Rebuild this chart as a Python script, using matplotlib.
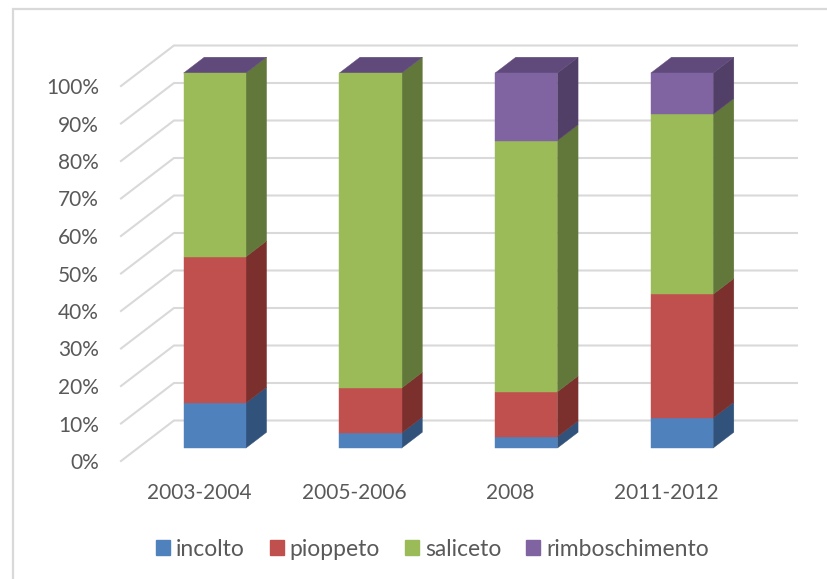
import matplotlib
matplotlib.use("Agg")
import matplotlib.pyplot as plt
from matplotlib.patches import Polygon, Patch, Rectangle

plt.rcParams['font.family'] = ['Lato', 'DejaVu Sans']

categories = ['2003-2004', '2005-2006', '2008', '2011-2012']
incolto = [12, 4, 3, 8]
pioppeto = [39, 12, 12, 33]
saliceto = [49, 84, 67, 48]
rimboschimento = [0, 0, 18, 11]
tick_values = list(range(0, 101, 10))

series_names = ['incolto', 'pioppeto', 'saliceto', 'rimboschimento']
series_values = [incolto, pioppeto, saliceto, rimboschimento]
front_colors = ['#4F81BD', '#C0504D', '#9BBB59', '#8064A2']
side_colors = ['#31527B', '#7B302E', '#62773A', '#523F68']
top_color = '#604A7B'
grid_color = '#D9D9D9'
text_color = '#595959'

W, H = 828, 579
fig = plt.figure(figsize=(W / 100, H / 100), dpi=100, facecolor='white')
ax = fig.add_axes([121 / W, (H - 461) / H, 623 / W, 375 / H])
ax.set_xlim(-0.5, 3.5)
ax.set_ylim(0, 100)
ax.patch.set_visible(False)
for s in ax.spines.values():
    s.set_visible(False)

# outer chart frame
fig.add_artist(Rectangle((13 / W, -0.05), 1.0, (H - 9) / H + 0.05,
                         transform=fig.transFigure, fill=False,
                         edgecolor=grid_color, linewidth=1.6))

depth_x = 0.34    # depth of the floor in category units
depth_y = 10.8    # depth of the floor in percent units
bar_width = 0.40
front_frac = 0.30
depth_frac = 0.39

# gridlines on floor/back wall
for v in tick_values:
    ax.plot([-0.5, -0.5 + depth_x, 3.5 + depth_x],
            [v, v + depth_y, v + depth_y],
            color=grid_color, lw=1.5, clip_on=False, zorder=1,
            solid_joinstyle='miter')

fx = depth_x * front_frac
fy = depth_y * 0.32
bx = depth_x * depth_frac
by = depth_y * depth_frac

for i in range(len(categories)):
    x0 = i - bar_width / 2 + fx
    x1 = i + bar_width / 2 + fx
    bottom = fy
    for vals, fc, sc in zip(series_values, front_colors, side_colors):
        v = vals[i]
        if v == 0:
            continue
        top = bottom + v
        ax.add_patch(Polygon([(x1, bottom), (x1 + bx, bottom + by),
                              (x1 + bx, top + by), (x1, top)],
                             closed=True, facecolor=sc, edgecolor=sc,
                             lw=0.3, clip_on=False, zorder=3))
        ax.add_patch(Polygon([(x0, bottom), (x1, bottom), (x1, top), (x0, top)],
                             closed=True, facecolor=fc, edgecolor=fc,
                             lw=0.3, clip_on=False, zorder=4))
        bottom = top
    ax.add_patch(Polygon([(x0, bottom), (x1, bottom), (x1 + bx, bottom + by),
                          (x0 + bx, bottom + by)],
                         closed=True, facecolor=top_color, edgecolor=top_color,
                         lw=0.3, clip_on=False, zorder=3))

ax.set_xticks(range(len(categories)))
ax.set_xticklabels(categories)
ax.set_yticks(tick_values)
ax.set_yticklabels([f'{v}%' for v in tick_values])
ax.tick_params(axis='x', length=0, pad=15.5, labelsize=15, labelcolor=text_color)
ax.tick_params(axis='y', length=0, pad=16, labelsize=15, labelcolor=text_color)

handles = [Patch(facecolor=c, edgecolor=c, label=n)
           for n, c in zip(series_names, front_colors)]
fig.legend(handles=handles, loc='center', ncol=4,
           bbox_to_anchor=(432.5 / W, (H - 549) / H),
           bbox_transform=fig.transFigure, frameon=False,
           fontsize=16.5, labelcolor=text_color,
           handlelength=0.61, handleheight=0.61, handletextpad=0.26,
           columnspacing=1.09, borderpad=0, borderaxespad=0)

fig.savefig('out.png', dpi=100, facecolor='white')
